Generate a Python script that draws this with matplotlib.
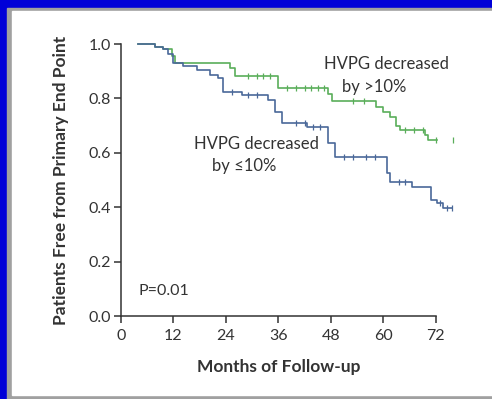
import numpy as np
import matplotlib
matplotlib.use("Agg")
import matplotlib.pyplot as plt
from matplotlib.patches import Rectangle

plt.rcParams['font.family'] = ['Lato', 'DejaVu Sans']

# Kaplan-Meier steps: HVPG decreased by >10%
green_t = [4, 7.8, 9.6, 11.6, 12.3, 24.9, 26.1, 35.9, 47.3, 48.2, 58.4, 60, 61.5, 63, 63.8, 69.5, 70.2, 72.2]
green_s = [1.0, 0.99, 0.98, 0.955, 0.931, 0.91, 0.882, 0.838, 0.815, 0.79, 0.77, 0.75, 0.73, 0.70, 0.684, 0.665, 0.647, 0.647]
green_cens = [29, 31, 32.5, 34, 38, 40, 42, 43.5, 45, 46.5, 53, 55.5, 65, 67, 69, 72, 76]

# HVPG decreased by <=10%
blue_t = [4, 7.8, 9.6, 10.8, 11.9, 14.2, 17.3, 20.3, 22.2, 23.3, 27.6, 33.6, 35.2, 36.8, 42.5, 47.3, 49,
          60.8, 61.5, 66.5, 71, 72.2, 73.6, 75.7]
blue_s = [1.0, 0.99, 0.98, 0.965, 0.93, 0.919, 0.904, 0.886, 0.875, 0.823, 0.812, 0.794, 0.75, 0.709, 0.695,
          0.636, 0.585, 0.525, 0.493, 0.474, 0.426, 0.415, 0.397, 0.397]
blue_cens = [25.5, 29, 31, 40, 42, 44, 45.5, 51, 53, 56, 58, 63.5, 65, 73, 74.5, 75.7]

green = '#5aae5a'
blue = '#4a6899'
ink = '#333333'


def at(times, surv, t):
    i = np.searchsorted(times, t, side='right') - 1
    return np.asarray(surv)[np.clip(i, 0, len(surv) - 1)]


fig = plt.figure(figsize=(4.92, 3.99), dpi=100)
fig.patch.set_facecolor('#0000d8')
# grey frame and white panel
fig.add_artist(Rectangle((7 / 492, 0), 1, 391 / 399, transform=fig.transFigure, color='#a0a0a0', zorder=0))
fig.add_artist(Rectangle((12 / 492, 4 / 399), 1, 384 / 399, transform=fig.transFigure, color='white', zorder=0))

ax = fig.add_axes([121 / 492, 83 / 399, 341 / 492, 272 / 399])
ax.set_facecolor('none')
ax.set_xlim(0, 78)
ax.set_ylim(0, 1.0)

for t, s, c, cens in [(green_t, green_s, green, green_cens), (blue_t, blue_s, blue, blue_cens)]:
    ax.step(t, s, where='post', color=c, lw=1.2, clip_on=False, zorder=3)
    ax.plot(cens, at(t, s, cens), ls='none', marker='|', ms=4, mew=0.9, color=c, clip_on=False, zorder=3)

for side in ['top', 'right']:
    ax.spines[side].set_visible(False)
for side in ['left', 'bottom']:
    ax.spines[side].set_color(ink)
    ax.spines[side].set_linewidth(1.1)
ax.spines['bottom'].set_bounds(0, 72)

ax.set_xticks(np.arange(0, 73, 12))
ax.set_yticks(np.arange(0, 1.01, 0.2))
ax.set_yticklabels(['0.0', '0.2', '0.4', '0.6', '0.8', '1.0'])
ax.tick_params(direction='out', length=5, width=1.1, color=ink, labelsize=11.5, labelcolor=ink, pad=2)
ax.tick_params(axis='x', pad=4)

ax.set_xlabel('Months of Follow-up', fontsize=12.5, fontweight='bold', color=ink, labelpad=12)
ax.xaxis.label.set_x(36 / 78)  # centred under the 0-72 axis line
ax.set_ylabel('Patients Free from Primary End Point', fontsize=12.5, fontweight='bold', color=ink, labelpad=14)

ax.text(46.5, 0.925, 'HVPG decreased', fontsize=12, color=ink, ha='left', va='center')
ax.text(50.5, 0.843, 'by >10%', fontsize=12, color=ink, ha='left', va='center')
ax.text(16.8, 0.632, 'HVPG decreased', fontsize=12, color=ink, ha='left', va='center')
ax.text(20.8, 0.551, 'by \u226410%', fontsize=12, color=ink, ha='left', va='center')
ax.text(3.9, 0.092, 'P=0.01', fontsize=11.5, color=ink, ha='left', va='center')

fig.savefig('out.png', dpi=100, facecolor=fig.get_facecolor())
